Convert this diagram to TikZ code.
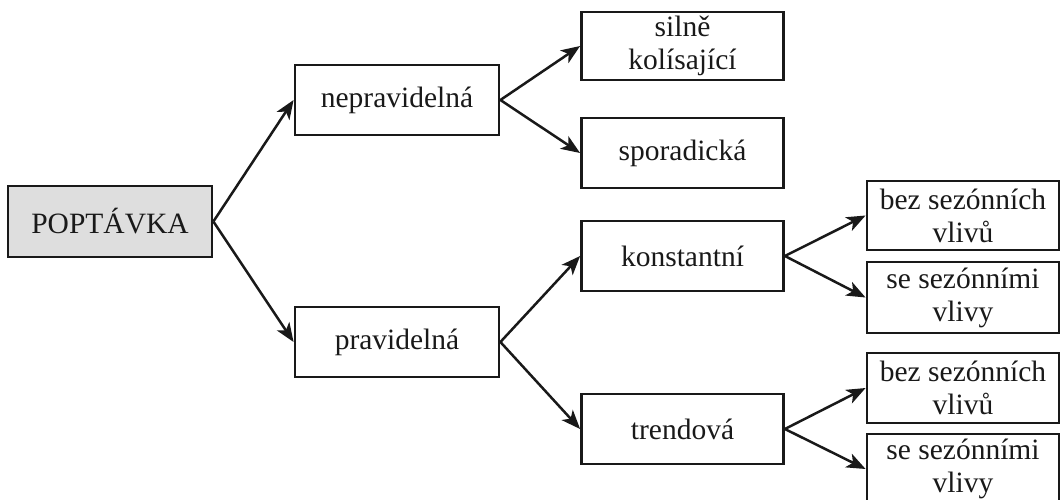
\documentclass[tikz,border=0pt]{standalone}
\usepackage{fontspec}
\setmainfont{Liberation Serif}
\usetikzlibrary{arrows.meta}
\begin{document}
\begin{tikzpicture}[x=1pt,y=-1pt,
  box/.style={draw=black!90, line width=2.8pt, inner sep=0pt, align=center,
    font=\fontsize{29.5}{33}\selectfont, text=black!90},
  lvltwo/.style={box, minimum width=204pt, minimum height=70pt},
  lvlthree/.style={box, minimum width=202pt, minimum height=70pt},
  lvlfour/.style={box, minimum width=192pt, minimum height=70pt},
  conn/.style={line width=2.5pt, draw=black!90, -{Stealth[length=19pt,width=15pt,inset=5pt]}}]
\useasboundingbox (0,0) rectangle (1061,499);
\clip (0,0) rectangle (1061,499);
\node[box, fill=black!13, minimum width=204pt, minimum height=71pt] (root) at (110,221.5) {POPTÁVKA};
\node[lvltwo] (nep) at (397,100) {nepravidelná};
\node[lvltwo] (prav) at (397,342) {pravidelná};
\node[lvlthree, minimum height=68pt] (sil) at (682.5,46) {silně\\kolísající};
\node[lvlthree] (spo) at (682.5,153) {sporadická};
\node[lvlthree] (kon) at (682.5,256) {konstantní};
\node[lvlthree] (tre) at (682.5,429) {trendová};
\node[lvlfour, minimum height=69pt] (b1) at (963,215.5) {bez sezónních\\vlivů};
\node[lvlfour, minimum height=71pt] (s1) at (963,297.5) {se sezónními\\vlivy};
\node[lvlfour] (b2) at (963,388) {bez sezónních\\vlivů};
\node[lvlfour] (s2) at (963,469) {se sezónními\\vlivy};
\draw[conn] (root.east) -- (nep.west);
\draw[conn] (root.east) -- (prav.west);
\draw[conn] (nep.east) -- (sil.west);
\draw[conn] (nep.east) -- (spo.west);
\draw[conn] (prav.east) -- (kon.west);
\draw[conn] (prav.east) -- (tre.west);
\draw[conn] (kon.east) -- (b1.west);
\draw[conn] (kon.east) -- (s1.west);
\draw[conn] (tre.east) -- (b2.west);
\draw[conn] (tre.east) -- (s2.west);
\end{tikzpicture}
\end{document}
